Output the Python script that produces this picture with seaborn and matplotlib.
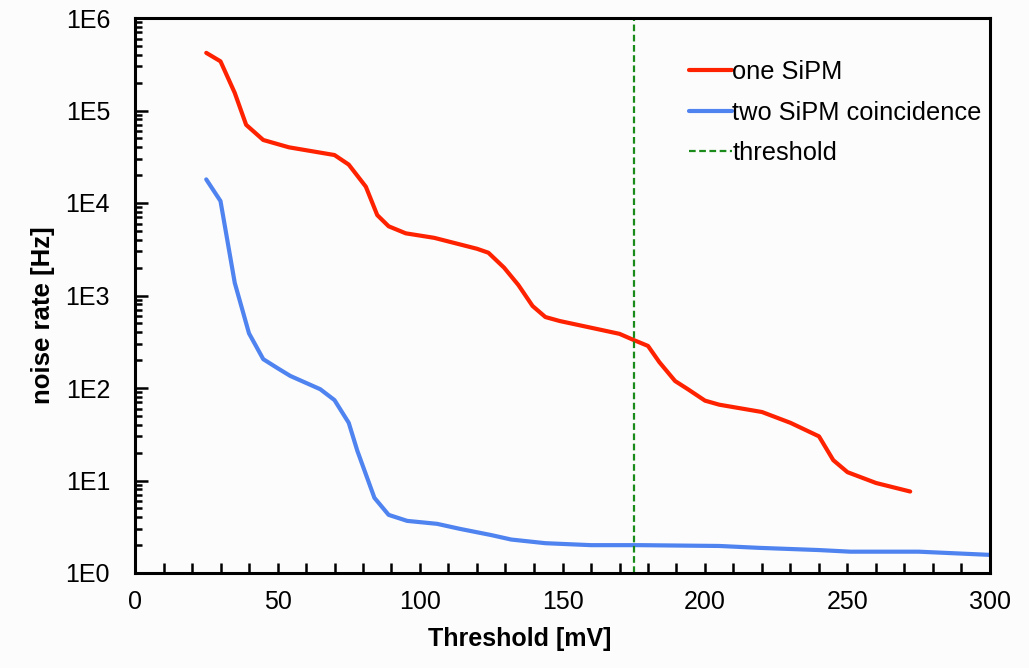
import numpy as np
import pandas as pd
import matplotlib
matplotlib.use("Agg")
import matplotlib.pyplot as plt
import matplotlib.ticker as mticker
import seaborn as sns

# ---- data ----
one_x = [25, 30, 35, 39, 45, 54, 70, 75, 81, 85, 89, 95, 105, 112, 120, 124, 129.5,
         134.5, 139.5, 144, 149, 162, 170, 175, 180, 184, 189.5, 194, 200, 205, 220,
         230, 240, 245, 250, 260, 272]
one_y = [4.2e5, 3.4e5, 1.55e5, 7.0e4, 4.8e4, 4.0e4, 3.3e4, 2.6e4, 1.5e4, 7.4e3, 5.6e3,
         4.7e3, 4.2e3, 3.7e3, 3.2e3, 2.9e3, 2.0e3, 1.3e3, 770, 585, 530, 435, 385, 330,
         285, 190, 119, 97, 73, 66, 55, 42, 30, 16.6, 12.3, 9.4, 7.6]

two_x = [25, 30, 35, 40, 45, 50, 54.5, 65, 70, 75, 78, 84, 89, 95.5, 106, 114, 125,
         132, 144, 160, 177, 205, 219, 240, 251, 275, 300]
two_y = [1.8e4, 1.05e4, 1.37e3, 390, 205, 164, 135, 97, 74, 42, 21, 6.5, 4.25, 3.66,
         3.4, 3.0, 2.57, 2.3, 2.1, 2.0, 2.0, 1.96, 1.87, 1.77, 1.7, 1.7, 1.57]

threshold_x = 175
series_names = ["one SiPM", "two SiPM coincidence", "threshold"]
x_ticks = [0, 50, 100, 150, 200, 250, 300]
y_ticks = [1, 10, 100, 1000, 1e4, 1e5, 1e6]
y_tick_labels = ["1E0", "1E1", "1E2", "1E3", "1E4", "1E5", "1E6"]

df = pd.concat([
    pd.DataFrame({"x": one_x, "y": one_y, "series": series_names[0]}),
    pd.DataFrame({"x": two_x, "y": two_y, "series": series_names[1]}),
])

sns.set_theme(style="white")
plt.rcParams["font.family"] = ["Liberation Sans", "DejaVu Sans"]
plt.rcParams["text.color"] = "black"
plt.rcParams["axes.labelcolor"] = "black"

fig = plt.figure(figsize=(10.29, 6.68), dpi=100, facecolor="#fcfcfc")
ax = fig.add_axes([135 / 1029, 1 - 573 / 668, 855 / 1029, 555 / 668])
ax.set_facecolor("#fcfcfc")

palette = {series_names[0]: "#ff2200", series_names[1]: "#4f83f0"}
sns.lineplot(data=df, x="x", y="y", hue="series", palette=palette, ax=ax,
             linewidth=3, estimator=None, sort=True)
ax.axvline(threshold_x, color="#1a8a1a", linewidth=1.6, linestyle=(0, (3, 1.6)),
           label=series_names[2])

ax.set_yscale("log")
ax.set_xlim(0, 300)
ax.set_ylim(1, 1e6)
ax.set_xticks(x_ticks)
ax.set_xticklabels([str(v) for v in x_ticks])
ax.xaxis.set_minor_locator(mticker.MultipleLocator(10))
ax.set_yticks(y_ticks)
ax.set_yticklabels(y_tick_labels)
ax.yaxis.set_minor_locator(mticker.LogLocator(base=10, subs=np.arange(2, 10), numticks=20))
ax.yaxis.set_minor_formatter(mticker.NullFormatter())

ax.tick_params(axis="both", which="both", direction="in", colors="black",
               labelsize=18, width=1.8)
ax.tick_params(axis="x", which="major", length=7, pad=12)
ax.tick_params(axis="x", which="minor", length=7)
ax.tick_params(axis="y", which="major", length=9, pad=18)
ax.tick_params(axis="y", which="minor", length=5)
ax.tick_params(axis="x", which="both", bottom=True, top=False)
ax.tick_params(axis="y", which="both", left=True, right=False)

for s in ax.spines.values():
    s.set_visible(True)
    s.set_color("black")
    s.set_linewidth(2.2)

ax.set_xlabel("Threshold [mV]", fontsize=18, fontweight="bold", color="black")
ax.set_ylabel("noise rate [Hz]", fontsize=18.5, fontweight="bold", color="black")
ax.xaxis.set_label_coords(0.450, -0.098)
ax.yaxis.set_label_coords(-0.093, 0.465)

handles, labels = ax.get_legend_handles_labels()
leg = ax.legend(handles, labels, loc="upper left", bbox_to_anchor=(0.648, 0.924),
                frameon=False, fontsize=18.3, handlelength=1.7, handletextpad=0.0,
                labelspacing=0.65, borderpad=0, borderaxespad=0, labelcolor="black")

fig.savefig("out.png", dpi=100, facecolor=fig.get_facecolor())
